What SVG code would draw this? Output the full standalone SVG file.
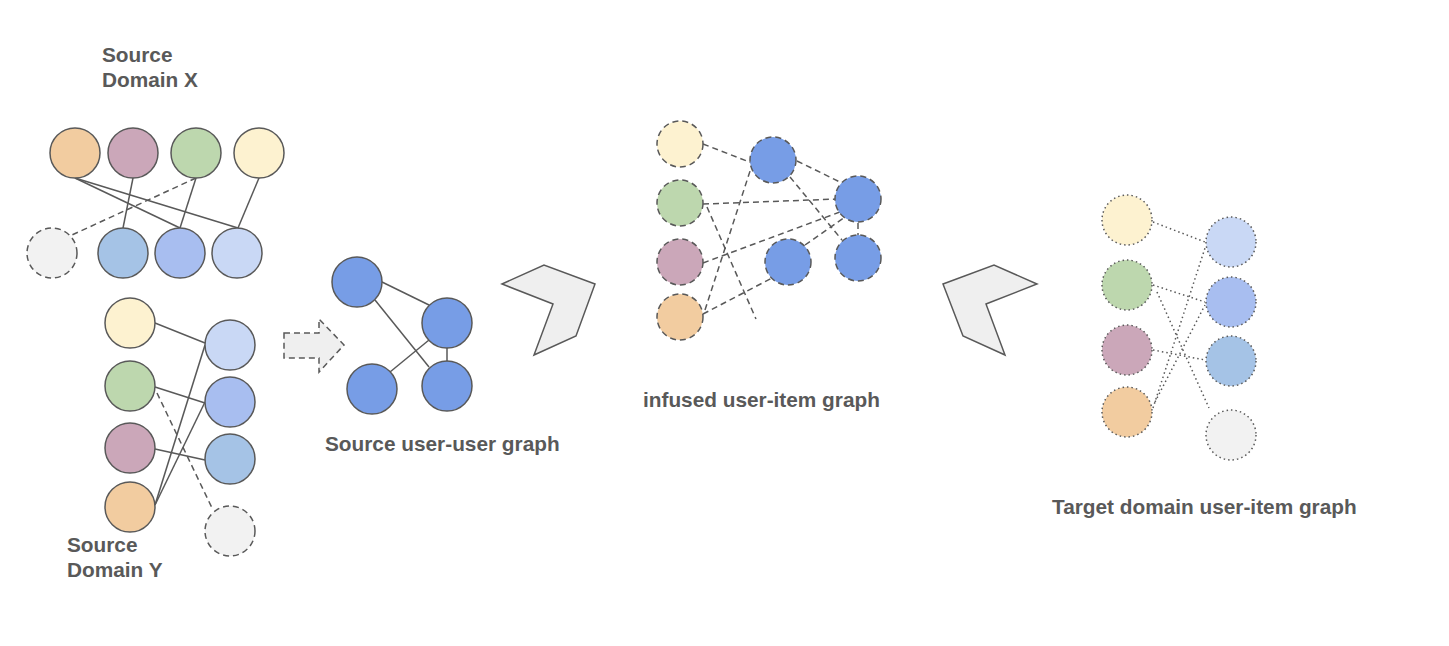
<svg xmlns="http://www.w3.org/2000/svg" width="1449" height="646" viewBox="0 0 1449 646">
<style>
.n{stroke:#595959;stroke-width:1.5}
.d{stroke-dasharray:6 4}
.o{stroke-dasharray:1.5 3}
.e{stroke:#595959;stroke-width:1.5;fill:none}
.or{fill:#F2CCA0}.pu{fill:#CBA7B9}.gr{fill:#BDD7AE}.ye{fill:#FDF2D0}
.b1{fill:#A5C3E6}.b2{fill:#A8BEF0}.b3{fill:#C9D8F5}.gy{fill:#F2F2F2}.db{fill:#779DE6}
.t{font-family:"Liberation Sans",Arial,sans-serif;font-weight:bold;font-size:20.8px;fill:#595959}
</style>
<rect width="1449" height="646" fill="#ffffff"/>
<g id="connectors">
  <!-- Source domain X -->
  <line class="e" x1="75" y1="178" x2="180" y2="228"/>
  <line class="e" x1="75" y1="178" x2="238" y2="228"/>
  <line class="e" x1="133" y1="178" x2="123" y2="228"/>
  <line class="e" x1="196" y1="178" x2="180" y2="228"/>
  <line class="e d" x1="196" y1="178" x2="72" y2="235"/>
  <line class="e" x1="259" y1="178" x2="238" y2="228"/>
  <!-- Source domain Y -->
  <line class="e" x1="155" y1="323" x2="205" y2="343"/>
  <line class="e" x1="155" y1="387" x2="205" y2="403"/>
  <line class="e" x1="155" y1="449" x2="205" y2="460"/>
  <line class="e" x1="155" y1="505" x2="205" y2="345"/>
  <line class="e" x1="155" y1="505" x2="205" y2="402"/>
  <line class="e d" x1="157" y1="393" x2="213" y2="510"/>
  <!-- user-user -->
  <line class="e" x1="382" y1="282" x2="429" y2="305"/>
  <line class="e" x1="375" y1="300" x2="429" y2="367"/>
  <line class="e" x1="390" y1="372" x2="429" y2="340"/>
  <line class="e" x1="447" y1="348" x2="447" y2="362"/>
  <!-- infused -->
  <line class="e d" x1="703" y1="144" x2="752" y2="163"/>
  <line class="e d" x1="797" y1="161" x2="842" y2="183"/>
  <line class="e d" x1="790" y1="177" x2="842" y2="240"/>
  <line class="e d" x1="703" y1="204" x2="837" y2="199"/>
  <line class="e d" x1="707" y1="207" x2="756" y2="319"/>
  <line class="e d" x1="703" y1="263" x2="840" y2="212"/>
  <line class="e d" x1="703" y1="314" x2="772" y2="278"/>
  <line class="e d" x1="705" y1="310" x2="752" y2="165"/>
  <line class="e d" x1="805" y1="245" x2="845" y2="217"/>
  <line class="e d" x1="858" y1="223" x2="858" y2="236"/>
  <!-- target -->
  <line class="e o" x1="1153" y1="222" x2="1205" y2="242"/>
  <line class="e o" x1="1153" y1="285" x2="1205" y2="302"/>
  <line class="e o" x1="1157" y1="292" x2="1209" y2="408"/>
  <line class="e o" x1="1153" y1="350" x2="1205" y2="360"/>
  <line class="e o" x1="1153" y1="408" x2="1205" y2="248"/>
  <line class="e o" x1="1155" y1="402" x2="1205" y2="305"/>
</g>
<g id="sourceX">
  <circle class="n or" cx="75" cy="153" r="25"/>
  <circle class="n pu" cx="133" cy="153" r="25"/>
  <circle class="n gr" cx="196" cy="153" r="25"/>
  <circle class="n ye" cx="259" cy="153" r="25"/>
  <circle class="n gy d" cx="52" cy="253" r="25"/>
  <circle class="n b1" cx="123" cy="253" r="25"/>
  <circle class="n b2" cx="180" cy="253" r="25"/>
  <circle class="n b3" cx="237" cy="253" r="25"/>
  <text class="t" x="102" y="62">Source</text>
  <text class="t" x="102" y="87">Domain X</text>
</g>
<g id="sourceY">
  <circle class="n ye" cx="130" cy="323" r="25"/>
  <circle class="n gr" cx="130" cy="386" r="25"/>
  <circle class="n pu" cx="130" cy="448" r="25"/>
  <circle class="n or" cx="130" cy="507" r="25"/>
  <circle class="n b3" cx="230" cy="345" r="25"/>
  <circle class="n b2" cx="230" cy="402" r="25"/>
  <circle class="n b1" cx="230" cy="459" r="25"/>
  <circle class="n gy d" cx="230" cy="531" r="25"/>
  <text class="t" x="67" y="552">Source</text>
  <text class="t" x="67" y="577">Domain Y</text>
</g>
<g id="arrow">
  <polygon class="n d" fill="#EFEFEF" points="284,333 319,333 319,319 344,345 319,372 319,358 284,358"/>
</g>
<g id="useruser">
  <circle class="n db" cx="357" cy="282" r="25"/>
  <circle class="n db" cx="447" cy="323" r="25"/>
  <circle class="n db" cx="372" cy="389" r="25"/>
  <circle class="n db" cx="447" cy="386" r="25"/>
  <text class="t" x="325" y="451">Source user-user graph</text>
</g>
<g id="chevron1">
  <polygon class="n" fill="#EFEFEF" points="502,284 544,265 595,284 576,336 534,355 553,304"/>
</g>
<g id="chevron2">
  <polygon class="n" fill="#EFEFEF" points="943,284 994,265 1037,284 986,304 1005,355 963,336"/>
</g>
<g id="infused">
  <circle class="n ye d" cx="680" cy="144" r="23"/>
  <circle class="n gr d" cx="680" cy="203" r="23"/>
  <circle class="n pu d" cx="680" cy="262" r="23"/>
  <circle class="n or d" cx="680" cy="317" r="23"/>
  <circle class="n db d" cx="773" cy="160" r="23"/>
  <circle class="n db d" cx="858" cy="199" r="23"/>
  <circle class="n db d" cx="788" cy="262" r="23"/>
  <circle class="n db d" cx="858" cy="258" r="23"/>
  <text class="t" x="643" y="407">infused user-item graph</text>
</g>
<g id="target">
  <circle class="n ye o" cx="1127" cy="220" r="25"/>
  <circle class="n gr o" cx="1127" cy="285" r="25"/>
  <circle class="n pu o" cx="1127" cy="350" r="25"/>
  <circle class="n or o" cx="1127" cy="412" r="25"/>
  <circle class="n b3 o" cx="1231" cy="242" r="25"/>
  <circle class="n b2 o" cx="1231" cy="302" r="25"/>
  <circle class="n b1 o" cx="1231" cy="361" r="25"/>
  <circle class="n gy o" cx="1231" cy="435" r="25"/>
  <text class="t" x="1052" y="514">Target domain user-item graph</text>
</g>
</svg>
